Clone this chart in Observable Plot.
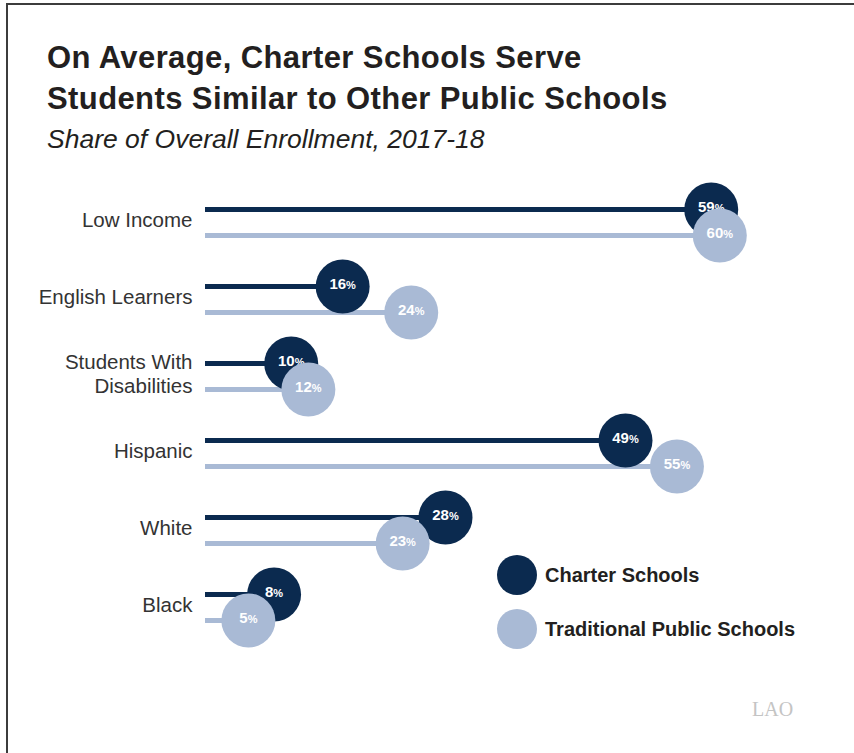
<!DOCTYPE html>
<html><head><meta charset="utf-8">
<script src="https://cdn.jsdelivr.net/npm/d3@7"></script>
<script src="https://cdn.jsdelivr.net/npm/@observablehq/plot@0.6"></script>
<style>
body{margin:0;background:#fff;font-family:"Liberation Sans",Arial,Helvetica,sans-serif;color:#231f20;}
#page{position:relative;width:854px;height:753px;overflow:hidden;background:#fff;}
#frame{position:absolute;left:6px;top:3px;width:900px;height:800px;border-top:2px solid #3c3c3c;border-left:2px solid #3c3c3c;}
#title{position:absolute;left:47px;top:37px;font-weight:bold;font-size:31px;line-height:41px;letter-spacing:0.4px;white-space:nowrap;}
#subtitle{position:absolute;left:47px;top:124px;font-style:italic;font-size:26.5px;white-space:nowrap;}
#chart{position:absolute;left:0;top:171px;}
.leg{position:absolute;left:497px;display:flex;align-items:center;font-weight:bold;font-size:20px;white-space:nowrap;}
.leg .sw{width:40px;height:40px;border-radius:50%;margin-right:8px;}
#lao{position:absolute;left:752px;top:698px;font-family:"Liberation Serif","Times New Roman",serif;font-size:20px;color:#c4c4c4;}
</style></head>
<body>
<div id="page">
  <div id="frame"></div>
  <div id="title">On Average, Charter Schools Serve<br>Students Similar to Other Public Schools</div>
  <div id="subtitle">Share of Overall Enrollment, 2017-18</div>
  <div id="chart"></div>
  <div id="legend"></div>
  <div id="lao">LAO</div>
</div>
<script>
const categories = ["Low Income", "English Learners", "Students With Disabilities", "Hispanic", "White", "Black"];
const tickLabels = ["Low Income", "English Learners", "Students With\nDisabilities", "Hispanic", "White", "Black"];
const charter = [59, 16, 10, 49, 28, 8];
const traditional = [60, 24, 12, 55, 23, 5];
const seriesNames = ["Charter Schools", "Traditional Public Schools"];
const seriesColors = ["#0b2a4f", "#a9bad5"];
const seriesOffsets = [-13, 13];

const seriesValues = [charter, traditional];
const seriesData = seriesNames.map((s, k) =>
  categories.map((c, i) => ({category: c, series: s, value: seriesValues[k][i]})));

const marks = [];
seriesData.forEach((d, k) => {
  marks.push(Plot.ruleY(d, {y: "category", x1: 0, x2: "value", stroke: seriesColors[k], strokeWidth: 5, dy: seriesOffsets[k]}));
});
seriesData.forEach((d, k) => {
  marks.push(Plot.dot(d, {x: "value", y: "category", r: 27, fill: seriesColors[k], stroke: "none", dy: seriesOffsets[k]}));
  marks.push(Plot.text(d, {x: "value", y: "category", text: r => r.value + "%", dy: seriesOffsets[k] - 2, fill: "white", fontWeight: "bold", fontSize: 15}));
});
marks.push(Plot.axisY({tickSize: 0, tickPadding: 13, fontSize: 20.5, lineHeight: 1.17, fill: "#333", dy: -3, label: null,
  tickFormat: c => tickLabels[categories.indexOf(c)]}));

const chart = Plot.plot({
  width: 854, height: 480,
  marginLeft: 205, marginRight: 49, marginTop: 51, marginBottom: 44,
  style: {fontFamily: "'Liberation Sans', Arial, Helvetica, sans-serif", background: "transparent", overflow: "visible"},
  x: {domain: [0, 70], axis: null},
  y: {type: "point", domain: categories, padding: 0, label: null},
  marks
});
d3.select(chart).selectAll("text").each(function() {
  const t = this.textContent;
  if (/^\d+%$/.test(t)) {
    const num = t.slice(0, -1);
    this.textContent = num;
    d3.select(this).append("tspan").attr("font-size", 11).attr("font-weight", "bold").text("%");
  }
});
document.getElementById("chart").appendChild(chart);

const legend = document.getElementById("legend");
const legendTops = [555, 609];
seriesNames.forEach((s, k) => {
  const div = document.createElement("div");
  div.className = "leg";
  div.style.top = legendTops[k] + "px";
  div.innerHTML = `<div class="sw" style="background:${seriesColors[k]}"></div><span>${s}</span>`;
  legend.appendChild(div);
});
</script>
</body></html>
